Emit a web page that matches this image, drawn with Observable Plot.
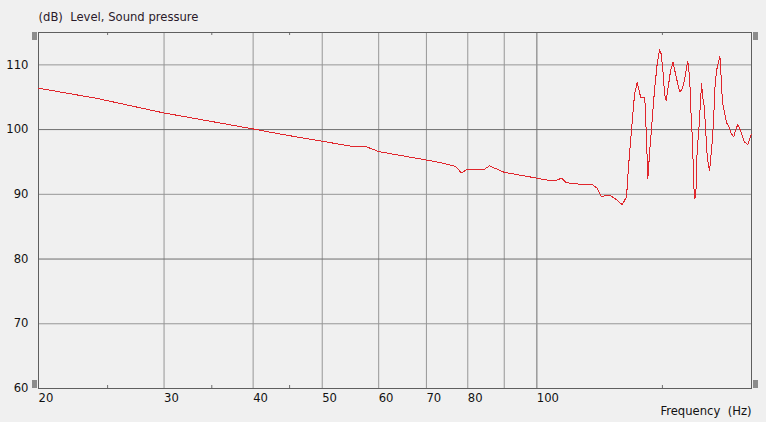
<!DOCTYPE html>
<html>
<head>
<meta charset="utf-8">
<script src="https://cdn.jsdelivr.net/npm/d3@7"></script>
<script src="https://cdn.jsdelivr.net/npm/@observablehq/plot@0.6"></script>
<style>
  html, body { margin: 0; padding: 0; background: #f0f0f0; }
  #wrap { position: relative; width: 766px; height: 422px; overflow: hidden; }
  #wrap svg { background: #f0f0f0; white-space: pre; }
  .handle { position: absolute; background: #8c8c8c; width: 5px; height: 8px; }
</style>
</head>
<body>
<div id="wrap"></div>
<script>
// Frequency (Hz) and sound pressure level (dB)
const freq = [20, 24.2, 29.9, 40, 43.7, 50, 55.1, 57.5, 60, 70, 73.3, 76.9, 78.4, 79.9, 82.6, 84.2, 85.8, 90, 100,
  104.5, 106.2, 108.3, 110.0, 116.3, 119.7, 121.6, 123.2, 124.8, 126.8, 128.9, 131.7, 133.6, 134.1, 135.0, 136.1,
  137.1, 138.3, 139.8, 141.7, 142.5, 143.1, 144.0, 145.1, 146.2, 147.5, 148.6, 149.4, 150.4, 151.0, 151.8, 152.8,
  154.0, 155.2, 156.5, 157.6, 158.7, 159.9, 161.1, 162.1, 162.8, 163.4, 163.9, 164.6, 165.3, 166.0, 166.6, 167.3,
  167.8, 168.7, 169.5, 170.2, 170.9, 171.7, 172.4, 173.1, 173.9, 174.7, 175.4, 176.4, 177.1, 177.9, 179.0, 180.2,
  180.6, 181.4, 182.1, 183.3, 184.5, 185.9, 187.5, 188.9, 190.1, 191.4, 192.6, 194.1, 195.5, 197.7, 198.9, 200];
const level = [106.4, 104.8, 102.6, 100.1, 99.3, 98.2, 97.4, 97.4, 96.6, 95.3, 94.9, 94.3, 93.3, 93.9, 93.9, 93.8, 94.4, 93.4, 92.5,
  92.1, 92.1, 92.5, 91.8, 91.5, 91.5, 90.9, 89.6, 89.8, 89.8, 89.3, 88.4, 89.6, 92.6, 96.8, 101.4,
  105.5, 107.3, 105.0, 104.9, 98.6, 92.4, 96.8, 101.4, 106.0, 110.2, 112.3, 111.7, 108.6, 105.5, 104.5, 106.5,
  109.1, 110.4, 108.6, 107.1, 105.8, 106.3, 107.6, 109.4, 110.6, 109.1, 107.1, 101.9, 98.3, 91.1, 89.3, 91.1,
  96.8, 99.9, 103.7, 107.1, 105.0, 103.5, 100.4, 96.8, 94.7, 93.7, 95.8, 98.9, 102.5, 107.3, 109.6, 110.9,
  111.3, 107.8, 104.2, 102.7, 101.1, 100.4, 99.3, 98.9, 100.0, 100.8, 100.1, 99.1, 98.1, 97.7, 98.6, 99.3];

const xTicks = [20, 30, 40, 50, 60, 70, 80, 90, 100];
const xGrid = [30, 40, 50, 60, 70, 80, 90, 100];
const xMinor = [25, 35, 45, 150];
const yTicks = [60, 70, 80, 90, 100, 110];
const yGrid = [70, 80, 90, 100, 110];
const xDomain = [20, 200];
const yDomain = [60, 115];
const yTitle = "(dB)  Level, Sound pressure";
const xTitle = "Frequency  (Hz)";

const data = freq.map((f, i) => ({f, v: level[i]}));

const W = 766, H = 422, mL = 38, mR = 15, mT = 32, mB = 34;
const innerH = H - mT - mB;
const light = "#969696", dark = "#6e6e6e";

const chart = Plot.plot({
  width: W, height: H,
  marginLeft: mL, marginRight: mR, marginTop: mT, marginBottom: mB,
  style: {background: "#f0f0f0", fontFamily: "'DejaVu Sans', sans-serif", fontSize: "11.6px", color: "#111"},
  x: {type: "log", domain: xDomain},
  y: {domain: yDomain},
  marks: [
    Plot.ruleX(xGrid, {stroke: d => d === 100 ? dark : light, strokeWidth: 1}),
    Plot.ruleY(yGrid, {stroke: d => d % 20 === 0 ? dark : light, strokeWidth: 1}),
    Plot.ruleX(xMinor, {stroke: dark, insetBottom: innerH - 3}),
    Plot.ruleX(xMinor, {stroke: dark, insetTop: innerH - 3}),
    Plot.frame({stroke: "#5f5f5f", strokeWidth: 1}),
    Plot.line(data, {x: "f", y: "v", stroke: "#e0262c", strokeWidth: 1, shapeRendering: "crispEdges"}),
    Plot.axisX(xTicks, {anchor: "bottom", tickSize: 0, tickPadding: 5, textAnchor: "start", dx: 0, label: null, tickFormat: d => String(d), fill: "#111"}),
    Plot.axisY(yTicks, {anchor: "left", tickSize: 0, tickPadding: 10, label: null, tickFormat: d => String(d), fill: "#111"}),
    Plot.text([yTitle], {frameAnchor: "top-left", dy: -20, textAnchor: "start", fill: "#2a1a2a"}),
    Plot.text([xTitle], {frameAnchor: "bottom-right", dy: 26, textAnchor: "end", fill: "#111"})
  ]
});

const wrap = document.getElementById("wrap");
wrap.appendChild(chart);
// scrollbar handles at the frame corners
[[32, 32], [32, 380], [753, 32], [753, 380]].forEach(([l, t]) => {
  const d = document.createElement("div");
  d.className = "handle";
  d.style.left = l + "px"; d.style.top = t + "px";
  wrap.appendChild(d);
});
</script>
</body>
</html>
